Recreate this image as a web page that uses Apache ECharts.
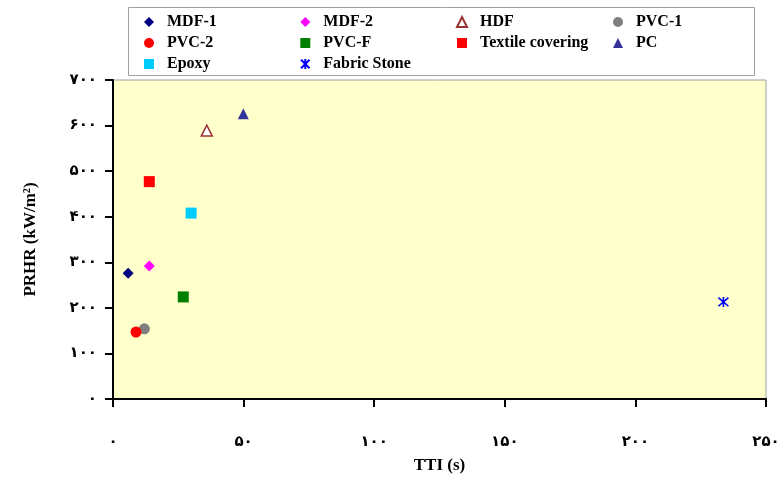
<!DOCTYPE html>
<html>
<head>
<meta charset="utf-8">
<script src="https://cdn.jsdelivr.net/npm/echarts@6/dist/echarts.min.js"></script>
<style>
  html, body { margin: 0; padding: 0; background: #fff; }
  #chart { width: 779px; height: 483px; }
</style>
</head>
<body>
<div id="chart"></div>
<script>
// Material names (legend order)
const materials = ['MDF-1', 'MDF-2', 'HDF', 'PVC-1', 'PVC-2', 'PVC-F',
                   'Textile covering', 'PC', 'Epoxy', 'Fabric Stone'];
// Time to ignition (s)
const tti  = [5.8, 13.9, 35.9, 12.0, 8.8, 26.9, 13.9, 49.9, 29.9, 233.7];
// Peak rate of heat release (kW/m²)
const prhr = [276, 292, 589, 154, 147, 224, 477, 626, 408, 213];

// Axis settings and tick labels (Persian digits)
const xTicks = [0, 50, 100, 150, 200, 250];
const yTicks = [0, 100, 200, 300, 400, 500, 600, 700];
const persianDigits = ['۰','۱','۲','۳','۴','۵','۶','۷','۸','۹'];
const toPersian = v => String(v).replace(/[0-9]/g, d => persianDigits[+d]);

// Marker appearance per material
const markerStyles = {
  'MDF-1':            { symbol: 'diamond',  size: 11, color: '#000080' },
  'MDF-2':            { symbol: 'diamond',  size: 11, color: '#FF00FF' },
  'HDF':              { symbol: 'triangle', size: 11, color: '#FFFFFF', border: '#993333' },
  'PVC-1':            { symbol: 'circle',   size: 11, color: '#808080' },
  'PVC-2':            { symbol: 'circle',   size: 11, color: '#FF0000' },
  'PVC-F':            { symbol: 'rect',     size: 11, color: '#008000' },
  'Textile covering': { symbol: 'rect',     size: 11, color: '#FF0000' },
  'PC':               { symbol: 'triangle', size: 11, color: '#333399' },
  'Epoxy':            { symbol: 'rect',     size: 11, color: '#00CCFF' },
  'Fabric Stone':     { symbol: 'path://M0,-5L0,5M-4.3,-4.3L4.3,4.3M-4.3,4.3L4.3,-4.3',
                        size: 10, color: 'transparent', border: '#0000FF', line: true }
};

const serif = '"Liberation Serif", "Times New Roman", serif';
const digitFont = '"DejaVu Sans", sans-serif';

const series = materials.map((name, i) => {
  const st = markerStyles[name];
  const itemStyle = { color: st.color, opacity: 1 };
  if (st.border) {
    itemStyle.borderColor = st.border;
    itemStyle.borderWidth = st.line ? 1.6 : 1.5;
  }
  return {
    name: name,
    type: 'scatter',
    symbol: st.symbol,
    symbolSize: st.size,
    itemStyle: itemStyle,
    emphasis: { disabled: true },
    data: [[tti[i], prhr[i]]]
  };
});

// Legend laid out in four fixed columns
const legendColumns = [
  ['MDF-1', 'PVC-2', 'Epoxy'],
  ['MDF-2', 'PVC-F', 'Fabric Stone'],
  ['HDF', 'Textile covering'],
  ['PVC-1', 'PC']
];
const columnLeft = [139, 295, 451, 608];
const legends = legendColumns.map((col, c) => ({
  orient: 'vertical',
  left: columnLeft[c],
  top: 9,
  itemWidth: 10,
  itemHeight: 10,
  itemGap: 5,
  selectedMode: false,
  data: col,
  textStyle: { fontFamily: serif, fontWeight: 'bold', fontSize: 16, color: '#000', padding: [0, 0, 0, 8] }
}));

const chart = echarts.init(document.getElementById('chart'), null, { renderer: 'canvas' });
chart.setOption({
  animation: false,
  backgroundColor: '#FFFFFF',
  grid: {
    left: 113, right: 13, top: 80, bottom: 84,
    outerBoundsMode: 'none',
    show: true, backgroundColor: '#FFFFCC', borderColor: '#A0A0A0', borderWidth: 1
  },
  graphic: [{
    type: 'rect',
    shape: { x: 128.5, y: 7.5, width: 626, height: 68 },
    style: { fill: '#FFFFFF', stroke: '#A0A0A0', lineWidth: 1 },
    z: 0
  }],
  legend: legends,
  xAxis: {
    type: 'value',
    min: xTicks[0], max: xTicks[xTicks.length - 1], interval: 50,
    name: 'TTI (s)',
    nameLocation: 'middle',
    nameGap: 58,
    nameTextStyle: { fontFamily: serif, fontWeight: 'bold', fontSize: 17, color: '#000' },
    axisLine: { onZero: false, lineStyle: { color: '#000', width: 2 } },
    axisTick: { show: true, inside: false, length: 8, lineStyle: { color: '#000', width: 2 } },
    axisLabel: {
      margin: 36, formatter: v => toPersian(v),
      fontFamily: digitFont, fontWeight: 'bold', fontSize: 15, color: '#000'
    },
    splitLine: { show: false }
  },
  yAxis: {
    type: 'value',
    min: yTicks[0], max: yTicks[yTicks.length - 1], interval: 100,
    name: 'PRHR (kW/m²)',
    nameLocation: 'middle',
    nameGap: 74,
    nameRotate: 90,
    nameTextStyle: { fontFamily: serif, fontWeight: 'bold', fontSize: 17, color: '#000' },
    axisLine: { onZero: false, lineStyle: { color: '#000', width: 2 } },
    axisTick: { show: true, inside: false, length: 8, lineStyle: { color: '#000', width: 2 } },
    axisLabel: {
      margin: 16, formatter: v => toPersian(v),
      fontFamily: digitFont, fontWeight: 'bold', fontSize: 15, color: '#000'
    },
    splitLine: { show: false }
  },
  series: series
});
</script>
</body>
</html>
